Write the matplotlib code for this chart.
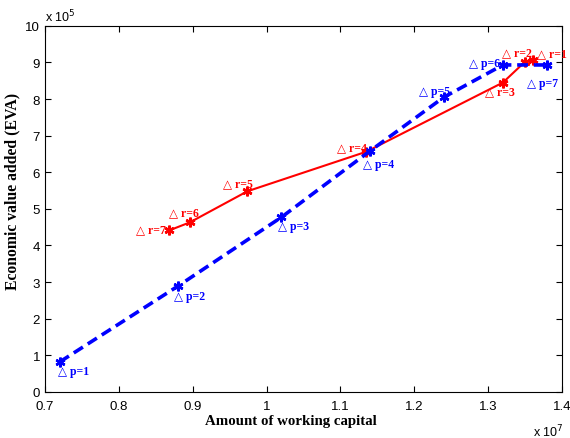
import matplotlib
matplotlib.use("Agg")
import matplotlib.pyplot as plt

# capital de trabajo (x 1e7) y EVA (x 1e5)
p_x = [0.72, 0.88, 1.02, 1.14, 1.24, 1.32, 1.38]
p_y = [0.82, 2.89, 4.77, 6.58, 8.05, 8.93, 8.93]
p_labels = ["p=1", "p=2", "p=3", "p=4", "p=5", "p=6", "p=7"]

r_x = [1.361, 1.350, 1.320, 1.135, 0.974, 0.896, 0.868]
r_y = [9.07, 9.02, 8.45, 6.56, 5.48, 4.63, 4.41]
r_labels = ["r=1", "r=2", "r=3", "r=4", "r=5", "r=6", "r=7"]

# desplazamiento de etiquetas (pixeles)
p_off = [(-2, -9), (-4, -10), (-3, -9), (-7, -13), (-25, 6), (-34, 2), (-20, -18)]
r_off = [(4, 7), (-23, 9), (-18, -9), (-29, 4), (-24, 8), (-21, 10), (-33, 1)]

fig = plt.figure(figsize=(5.7, 4.39), dpi=100)
ax = fig.add_axes([0.079, 0.105, 0.907, 0.834])

star = (6, 2, 0)
ax.plot(r_x, r_y, color="red", lw=1.5, marker=star, ms=7, mew=1.8)
ax.plot(p_x, p_y, color="blue", lw=2.6, ls=(0, (3, 1.6)), marker=star, ms=7, mew=1.8)

fuente = ["Liberation Serif", "DejaVu Serif"]
for x, y, t, o in zip(p_x, p_y, p_labels, p_off):
    ax.annotate("\u25b3 " + t, (x, y), xytext=o, textcoords="offset pixels",
                ha="left", va="center", color="blue", fontsize=8.5,
                fontweight="bold", family=fuente)
for x, y, t, o in zip(r_x, r_y, r_labels, r_off):
    ax.annotate("\u25b3 " + t, (x, y), xytext=o, textcoords="offset pixels",
                ha="left", va="center", color="red", fontsize=8.5,
                fontweight="bold", family=fuente)

ax.set_xlim(0.7, 1.4)
ax.set_ylim(0, 10)
ax.set_xticks([0.7, 0.8, 0.9, 1.0, 1.1, 1.2, 1.3, 1.4])
ax.set_xticklabels(["0.7", "0.8", "0.9", "1", "1.1", "1.2", "1.3", "1.4"])
ax.set_yticks(range(0, 11))
ax.tick_params(direction="in", top=True, right=True, labelsize=9.5, length=4)
ax.tick_params(axis="x", pad=6)
for lbl in ax.get_xticklabels() + ax.get_yticklabels():
    lbl.set_family("Liberation Sans")

ax.set_xlabel("Amount of working capital", family="Liberation Serif",
              fontweight="bold", fontsize=10.7)
ax.xaxis.set_label_coords(0.476, -0.06)
ax.set_ylabel("Economic value added (EVA)", family="Liberation Serif",
              fontweight="bold", fontsize=11.3)
ax.yaxis.set_label_coords(-0.048, 0.55)

fig.text(45 / 570, 1 - 17 / 439, r"x 10$^{5}$", family="Liberation Sans",
         fontsize=9, va="center")
fig.text(533 / 570, 1 - 432 / 439, r"x 10$^{7}$", family="Liberation Sans",
         fontsize=9, va="center")

fig.savefig("out.png", dpi=100)
